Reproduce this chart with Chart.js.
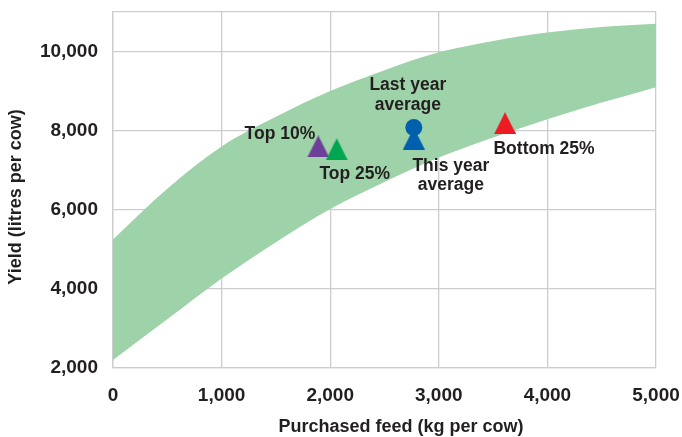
<!DOCTYPE html>
<html>
<head>
<meta charset="utf-8">
<script src="https://cdn.jsdelivr.net/npm/chart.js@4.4.1/dist/chart.umd.min.js"></script>
<style>
  html, body { margin: 0; padding: 0; background: #fff; }
  #wrap { width: 682px; height: 437px; position: relative; }
</style>
</head>
<body>
<div id="wrap"><canvas id="c"></canvas></div>
<script>
// Typical yield range as purchased feed rises (band edges)
const feedSteps = [0, 500, 1000, 1500, 2000, 2500, 3000, 3500, 4000, 4500, 5000];
const bandLow   = [2200, 3230, 4260, 5180, 6020, 6700, 7320, 7830, 8290, 8710, 9100];
const bandHigh  = [5250, 6530, 7600, 8350, 9000, 9530, 9980, 10270, 10480, 10620, 10700];

// Herd groups
const groupLabels = [['Top 10%'], ['Top 25%'], ['Last year', 'average'], ['This year', 'average'], ['Bottom 25%']];
const groupFeed   = [1890, 2060, 2770, 2770, 3610];
const groupYield  = [7600, 7530, 8080, 7800, 8190];

// Axis ticks
const xTicks = [0, 1000, 2000, 3000, 4000, 5000];
const yTicks = [2000, 4000, 6000, 8000, 10000, 11000];
const yLabelled = [2000, 4000, 6000, 8000, 10000];

const INK = '#231f20';
const GRID = '#cdcdcd';
const FONT = '"Liberation Sans", Arial, sans-serif';

function triangle(color) {
  const w = 22, h = 22;
  const cv = document.createElement('canvas');
  cv.width = w; cv.height = h;
  const g = cv.getContext('2d');
  g.fillStyle = color;
  g.beginPath();
  g.moveTo(w / 2, 0);
  g.lineTo(w, h);
  g.lineTo(0, h);
  g.closePath();
  g.fill();
  return cv;
}

const markerStyles = [
  { color: '#6e3f98', style: triangle('#6e3f98'), r: 11 },
  { color: '#00a651', style: triangle('#00a651'), r: 11 },
  { color: '#0060ae', style: 'circle', r: 8.5 },
  { color: '#0060ae', style: triangle('#0060ae'), r: 11 },
  { color: '#ed1c24', style: triangle('#ed1c24'), r: 11 }
];

// label placement relative to each marker, in pixels
const labelPlacement = [
  { dx: -3,   dy: [-12],        align: 'right' },
  { dx: 18,   dy: [25],         align: 'center' },
  { dx: -6,   dy: [-42, -22],   align: 'center' },
  { dx: 37,   dy: [28, 47],     align: 'center' },
  { dx: 39,   dy: [26],         align: 'center' }
];

const datasets = [
  {
    type: 'line',
    label: 'low',
    data: feedSteps.map((x, i) => ({ x, y: bandLow[i] })),
    fill: false, borderWidth: 0, pointRadius: 0,
    borderColor: 'rgba(0,0,0,0)', cubicInterpolationMode: 'monotone'
  },
  {
    type: 'line',
    label: 'high',
    data: feedSteps.map((x, i) => ({ x, y: bandHigh[i] })),
    fill: '-1', borderWidth: 0, pointRadius: 0,
    borderColor: 'rgba(0,0,0,0)', backgroundColor: '#9ed2a8',
    cubicInterpolationMode: 'monotone'
  }
];
const firstMarker = datasets.length;
groupFeed.forEach((fx, i) => {
  const m = markerStyles[i];
  datasets.push({
    type: 'scatter',
    label: groupLabels[i].join(' '),
    data: [{ x: fx, y: groupYield[i] }],
    showLine: false,
    pointStyle: m.style,
    pointRadius: m.r,
    pointHoverRadius: m.r,
    pointBackgroundColor: m.color,
    pointBorderWidth: 0,
    pointBorderColor: m.color
  });
});

// grid sits above the band; markers and notes go back on top of the grid
const notesPlugin = {
  id: 'notes',
  afterDraw(chart) {
    for (let i = firstMarker; i < chart.data.datasets.length; i++) {
      chart.getDatasetMeta(i).controller.draw();
    }
    const ctx = chart.ctx;
    const xs = chart.scales.x, ys = chart.scales.y;
    ctx.save();
    ctx.fillStyle = INK;
    ctx.textBaseline = 'middle';
    ctx.font = 'bold 17.5px ' + FONT;
    groupLabels.forEach((lines, i) => {
      const p = labelPlacement[i];
      const px = xs.getPixelForValue(groupFeed[i]);
      const py = ys.getPixelForValue(groupYield[i]);
      ctx.textAlign = p.align;
      lines.forEach((t, k) => ctx.fillText(t, px + p.dx, py + p.dy[k]));
    });
    // axis titles
    ctx.font = 'bold 18px ' + FONT;
    ctx.textAlign = 'center';
    ctx.fillText('Purchased feed (kg per cow)', 401, 427);
    ctx.translate(16, 197);
    ctx.rotate(-Math.PI / 2);
    ctx.fillText('Yield (litres per cow)', 0, 0);
    ctx.restore();
  }
};

new Chart(document.getElementById('c'), {
  type: 'scatter',
  data: { datasets },
  options: {
    responsive: true,
    maintainAspectRatio: false,
    animation: false,
    layout: { padding: { top: 12, right: 26, left: 0, bottom: 0 } },
    plugins: {
      legend: { display: false },
      tooltip: { enabled: false }
    },
    scales: {
      x: {
        type: 'linear',
        z: 1,
        min: 0, max: 5000,
        afterBuildTicks: s => { s.ticks = xTicks.map(v => ({ value: v })); },
        afterFit: s => { s.height = 69; s.paddingLeft = 0; s.paddingRight = 0; },
        grid: { color: GRID, lineWidth: 1.3, drawTicks: false },
        border: { color: GRID, width: 1.3 },
        ticks: {
          padding: 16,
          color: INK,
          font: { family: FONT, size: 19, weight: 'bold' },
          callback: v => v.toLocaleString('en-US')
        }
      },
      y: {
        type: 'linear',
        z: 1,
        min: 2000, max: 11000,
        afterBuildTicks: s => { s.ticks = yTicks.map(v => ({ value: v })); },
        afterFit: s => { s.width = 113; s.paddingTop = 0; s.paddingBottom = 0; },
        grid: { color: GRID, lineWidth: 1.3, drawTicks: false },
        border: { color: GRID, width: 1.3 },
        ticks: {
          padding: 15,
          color: INK,
          font: { family: FONT, size: 19, weight: 'bold' },
          callback: v => yLabelled.includes(v) ? v.toLocaleString('en-US') : ''
        }
      }
    }
  },
  plugins: [notesPlugin]
});
</script>
</body>
</html>
